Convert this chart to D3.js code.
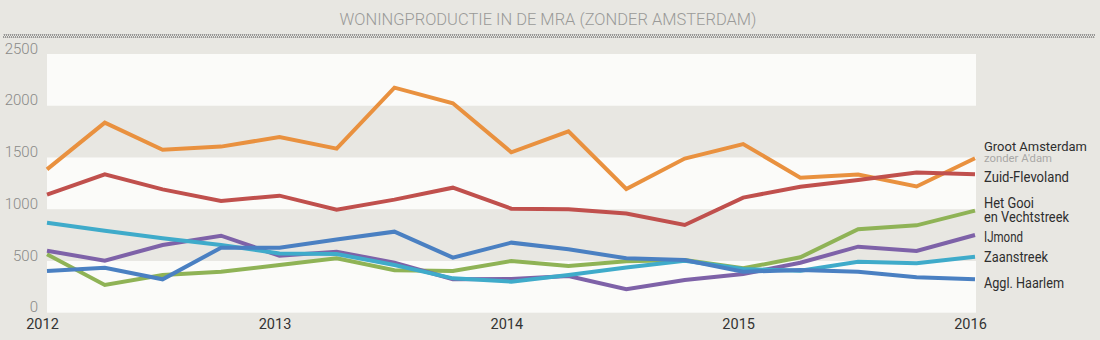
<!DOCTYPE html>
<html><head><meta charset="utf-8">
<script src="https://cdn.jsdelivr.net/npm/d3@7"></script>
<style>
html,body{margin:0;padding:0;background:#e8e7e2;}
svg{display:block;}
</style></head>
<body>
<svg id="chart" width="1100" height="340"></svg>
<script>
const title = "WONINGPRODUCTIE IN DE MRA (ZONDER AMSTERDAM)";
const quarters = ["2012Q1","2012Q2","2012Q3","2012Q4","2013Q1","2013Q2","2013Q3","2013Q4","2014Q1","2014Q2","2014Q3","2014Q4","2015Q1","2015Q2","2015Q3","2015Q4","2016Q1"];
const yTicks = [0,500,1000,1500,2000,2500];
const xTickYears = [2012,2013,2014,2015,2016];

const grootAmsterdam = [1385,1836,1575,1605,1698,1585,2175,2024,1550,1752,1195,1490,1630,1305,1335,1220,1492];
const zuidFlevoland  = [1140,1338,1192,1080,1131,995,1093,1208,1005,1000,958,848,1112,1218,1282,1355,1337];
const hetGooi        = [564,268,364,396,461,526,410,403,500,451,497,509,429,535,806,844,986];
const ijmond         = [599,503,654,744,550,590,483,323,326,355,226,316,374,483,638,596,751];
const zaanstreek     = [870,792,719,654,572,567,461,332,300,364,437,503,422,406,493,477,541];
const agglHaarlem    = [403,435,323,628,628,708,783,532,677,613,526,509,396,413,396,342,323];

const seriesNames = ["Groot Amsterdam","Zuid-Flevoland","Het Gooi en Vechtstreek","IJmond","Zaanstreek","Aggl. Haarlem"];
const seriesValues = [grootAmsterdam,zuidFlevoland,hetGooi,ijmond,zaanstreek,agglHaarlem];
const seriesColors = ["#e9913f","#c0504d","#8fb356","#7e62a8","#3fabca","#4a80c2"];

const svg = d3.select("#chart");
const W = 1100, H = 340;
const pL = 47, pR = 975, pT = 54, pB = 312.7;

const parseQ = q => new Date(+q.slice(0,4), (+q.slice(5)-1)*3, 1);
const x = d3.scaleTime().domain([new Date(2012,0,1), new Date(2016,0,1)]).range([pL,pR]);
const y = d3.scaleLinear().domain([0,2500]).range([pB,pT]);

// background
svg.append("rect").attr("width",W).attr("height",H).attr("fill","#e8e7e2");

// hatched rule
const defs = svg.append("defs");
const pat = defs.append("pattern").attr("id","hatch").attr("patternUnits","userSpaceOnUse")
  .attr("width",2).attr("height",4);
pat.append("rect").attr("width",2).attr("height",4).attr("fill","#e8e7e2");
pat.append("path").attr("d","M-1,1 L1,-1 M0,4 L2,0 M1,5 L3,3").attr("stroke","#6f6f6f").attr("stroke-width",0.9);
svg.append("rect").attr("x",3).attr("y",34).attr("width",1092).attr("height",4).attr("fill","url(#hatch)");

// title
svg.append("text").attr("x",548).attr("y",25).attr("text-anchor","middle")
  .attr("font-family","Roboto").attr("font-weight",300).attr("font-size",16.5)
  .attr("fill","#9a9a98").attr("textLength",417).attr("lengthAdjust","spacingAndGlyphs")
  .text(title);

// bands
for (let i=0;i<yTicks.length-1;i++){
  if (i%2===0){
    svg.append("rect").attr("x",pL).attr("width",pR+1-pL)
      .attr("y",y(yTicks[i+1])).attr("height",y(yTicks[i])-y(yTicks[i+1]))
      .attr("fill","#fbfbf9");
  }
}

// y axis
const yAxis = d3.axisLeft(y).tickValues(yTicks).tickSize(0).tickPadding(0).tickFormat(d3.format("d"));
const gy = svg.append("g").attr("transform","translate(38,0)").call(yAxis);
gy.select(".domain").remove();
gy.selectAll("text").attr("font-family","Roboto").attr("font-weight",300).attr("font-size",15)
  .attr("fill","#8a8a88").attr("dy","-0.05em").attr("text-anchor","end");

// x axis
const xAxis = d3.axisBottom(x).tickValues(xTickYears.map(yr=>new Date(yr,0,1)))
  .tickSize(0).tickPadding(0).tickFormat(d3.timeFormat("%Y"));
const gx = svg.append("g").attr("transform","translate(-5,"+(pB+6)+")").call(xAxis);
gx.select(".domain").remove();
gx.selectAll("text").attr("font-family","Roboto").attr("font-size",14.5).attr("fill","#333").attr("dy","0.71em");

// lines
const line = d3.line().x((d,i)=>x(parseQ(quarters[i]))).y(d=>y(d));
seriesValues.forEach((vals,k)=>{
  svg.append("path").datum(vals).attr("d",line).attr("fill","none")
    .attr("stroke",seriesColors[k]).attr("stroke-width",4).attr("stroke-linejoin","miter");
});

// labels
const lab = svg.append("g").attr("font-family","Roboto").attr("font-size",14).attr("fill","#2e2e2e");
const lx = 984;
function addLabel(txt, yy, len, size, fill){
  const t = lab.append("text").attr("x",lx).attr("y",yy).text(txt)
    .attr("textLength",len).attr("lengthAdjust","spacingAndGlyphs");
  if (size) t.attr("font-size",size);
  if (fill) t.attr("fill",fill);
}
addLabel("Groot Amsterdam",150.5,103,13.5);
addLabel("zonder A'dam",161.5,68,10.5,"#a8a8a6");
addLabel("Zuid-Flevoland",182,85);
addLabel("Het Gooi",208,50);
addLabel("en Vechtstreek",222,85);
addLabel("IJmond",242,39);
addLabel("Zaanstreek",262,64);
addLabel("Aggl. Haarlem",288,80);
</script>
</body></html>
